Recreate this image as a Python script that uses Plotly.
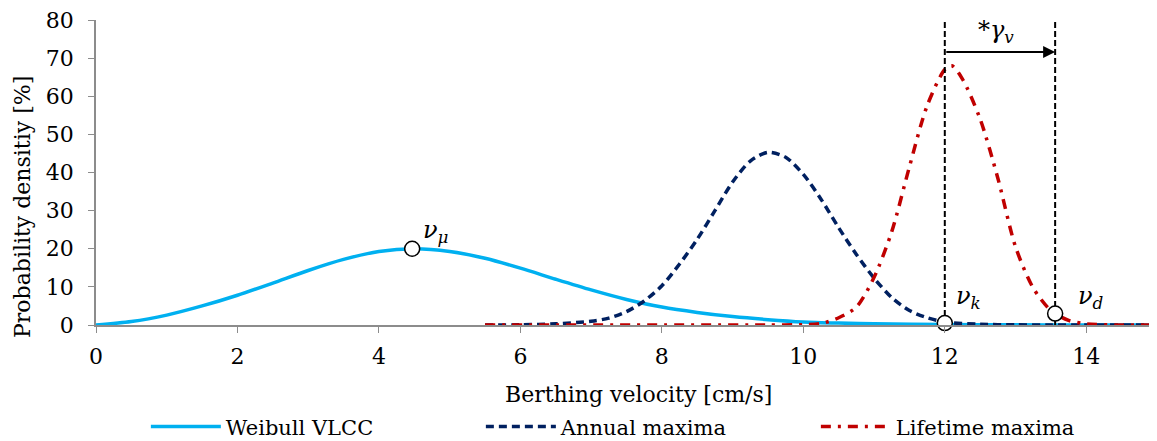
import plotly.graph_objects as go

# Weibull VLCC
weibull_x = [0, 0.5, 1, 1.5, 2, 2.5, 3, 3.5, 4, 4.5, 5, 5.5, 6, 6.5, 7, 7.5, 8, 8.5, 9, 9.5, 10, 10.5, 11, 12, 13, 14, 15]
weibull_y = [0, 0.9, 2.6, 5.0, 7.8, 11.0, 14.3, 17.2, 19.3, 20.0, 19.3, 17.5, 14.9, 12.0, 9.2, 6.7, 4.7, 3.3, 2.2, 1.4, 0.8, 0.5, 0.3, 0.1, 0.05, 0, 0]

# Annual maxima
annual_x = [5.5, 6, 6.5, 7, 7.25, 7.5, 7.75, 8, 8.25, 8.5, 8.75, 9, 9.25, 9.5, 9.75, 10, 10.25, 10.5, 10.75, 11, 11.25, 11.5, 11.75, 12, 12.5, 13, 13.5, 14, 15]
annual_y = [0, 0.05, 0.3, 1.0, 1.8, 3.5, 6.3, 10.3, 16.0, 22.5, 30.0, 37.5, 43.0, 45.3, 44.0, 39.5, 33.0, 25.5, 18.5, 12.3, 7.2, 3.8, 1.9, 0.8, 0.2, 0.05, 0, 0, 0]

# Lifetime maxima
life_x = [5.5, 9, 9.5, 10, 10.25, 10.5, 10.75, 11, 11.25, 11.5, 11.75, 12, 12.1, 12.25, 12.5, 12.75, 13, 13.25, 13.5, 13.75, 14, 14.5, 15]
life_y = [0, 0, 0, 0.1, 0.4, 1.9, 4.7, 12.5, 24.5, 41.5, 57.5, 67.0, 68.0, 64.5, 54.0, 38.5, 20.5, 9.7, 3.8, 1.2, 0.3, 0, 0]

# Characteristic points
mark_x = [4.47, 12.0, 13.56]
mark_y = [20.0, 0.5, 3.0]
mark_labels = ["<i>ν</i><sub><i>μ</i></sub>", "<i>ν</i><sub><i>k</i></sub>", "<i>ν</i><sub><i>d</i></sub>"]
label_x = [4.8, 12.33, 14.06]
label_y = [24.5, 7.3, 7.3]

vline_x = [12.0, 13.56]
gamma_label = "*<i>γ</i><sub><i>v</i></sub>"
x_title = "Berthing velocity [cm/s]"
y_title = "Probability densitiy [%]"

FONT = "DejaVu Serif"

fig = go.Figure()

fig.add_trace(go.Scatter(x=weibull_x, y=weibull_y, mode="lines", name="Weibull VLCC",
                         line=dict(color="#00B0F0", width=3.5, shape="spline", smoothing=0.8),
                         cliponaxis=False))
fig.add_trace(go.Scatter(x=annual_x, y=annual_y, mode="lines", name="Annual maxima",
                         line=dict(color="#002060", width=3.5, dash="8px,5px", shape="spline", smoothing=0.8),
                         cliponaxis=False))
fig.add_trace(go.Scatter(x=life_x, y=life_y, mode="lines", name="Lifetime maxima",
                         line=dict(color="#C00000", width=3.5, dash="10px,7px,3px,7px", shape="spline", smoothing=0.8),
                         cliponaxis=False))

for vx in vline_x:
    fig.add_trace(go.Scatter(x=[vx, vx], y=[0, 80], mode="lines", showlegend=False,
                             line=dict(color="black", width=2, dash="6px,3px"), cliponaxis=False))

fig.add_trace(go.Scatter(x=mark_x, y=mark_y, mode="markers", showlegend=False,
                         marker=dict(symbol="circle", size=15, color="white",
                                     line=dict(color="black", width=1.5)),
                         cliponaxis=False))

for lx, ly, t in zip(label_x, label_y, mark_labels):
    fig.add_annotation(x=lx, y=ly, text=t, showarrow=False,
                       font=dict(family=FONT, size=24, color="black"))

# arrow between vertical lines
fig.add_annotation(x=vline_x[1], y=71.6, ax=vline_x[0], ay=71.6, xref="x", yref="y",
                   axref="x", ayref="y", showarrow=True, arrowhead=2, arrowsize=1.2,
                   arrowwidth=2, arrowcolor="black", text="")
fig.add_annotation(x=12.72, y=77, text=gamma_label, showarrow=False,
                   font=dict(family=FONT, size=24, color="black"))

# axis titles
fig.add_annotation(xref="paper", yref="paper", x=0.511, y=0, yanchor="middle", yshift=-69,
                   text=x_title, showarrow=False, font=dict(family=FONT, size=22, color="black"))
fig.add_annotation(xref="paper", yref="paper", x=0, y=0.387, xanchor="center", xshift=-73,
                   text=y_title, textangle=-90, showarrow=False,
                   font=dict(family=FONT, size=22, color="black"))

fig.update_layout(
    template="none",
    width=1149, height=433,
    margin=dict(l=88, r=0, t=12, b=116, autoexpand=False),
    paper_bgcolor="white", plot_bgcolor="white",
    font=dict(family=FONT, size=22, color="black"),
    showlegend=True,
    legend=dict(orientation="h", x=0.047, xanchor="left", y=-0.334, yanchor="middle",
                font=dict(family=FONT, size=21, color="black"),
                itemwidth=70, entrywidth=250, entrywidthmode="pixels"),
)
fig.update_xaxes(range=[0, 15], dtick=2, tick0=0, showgrid=False, zeroline=False,
                 showline=True, linecolor="#8C8C8C", linewidth=1.5, automargin=False,
                 ticks="outside", ticklen=6, tickcolor="#8C8C8C", ticklabelstandoff=5,
                 ticklabeloverflow="allow", tickfont=dict(family=FONT, size=22))
fig.update_yaxes(range=[0, 80], dtick=10, tick0=0, showgrid=False, zeroline=False,
                 showline=True, linecolor="#8C8C8C", linewidth=1.5, automargin=False,
                 ticks="outside", ticklen=6, tickcolor="#8C8C8C", ticklabelstandoff=10,
                 ticklabeloverflow="allow", tickfont=dict(family=FONT, size=22))

fig.write_html("out.html")
